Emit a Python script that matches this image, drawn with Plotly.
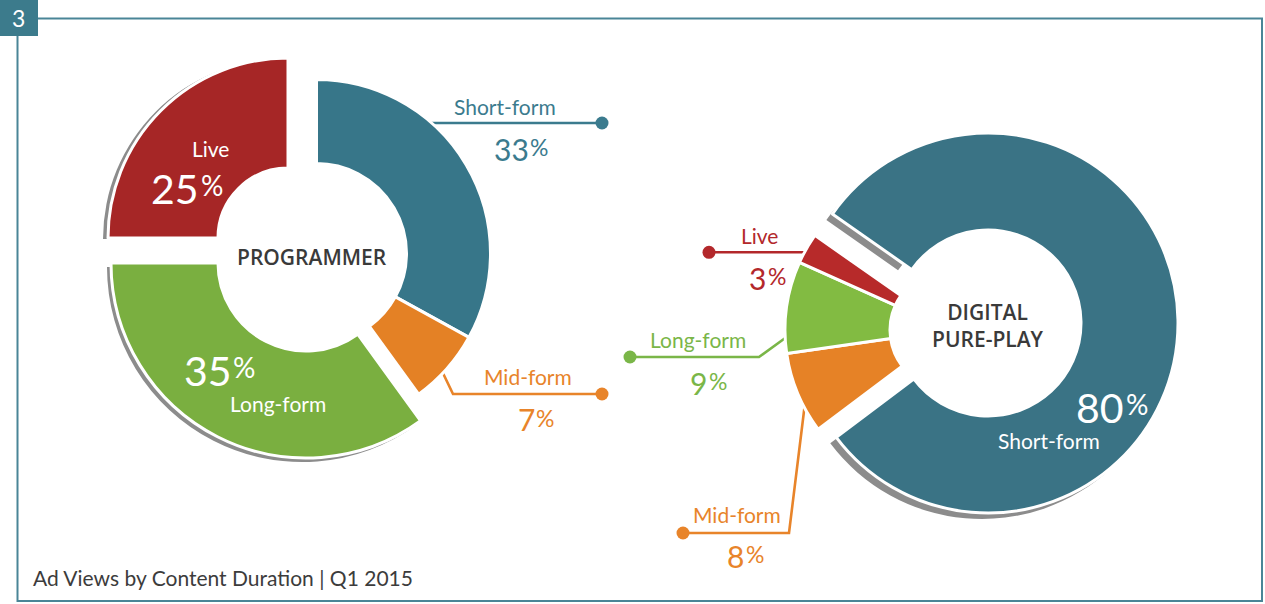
import plotly.graph_objects as go

W, H = 1265, 604

# ---------------- data ----------------
categories = ["Short-form", "Mid-form", "Long-form", "Live"]
programmer_values = [33, 7, 35, 25]
pureplay_values = [80, 8, 9, 3]
programmer_colors = ["#377689", "#e48125", "#7aaf40", "#a62626"]
pureplay_colors = ["#3a7385", "#e68226", "#82bb42", "#b72a2a"]
label_colors = ["#3b7b8e", "#e8842a", "#7ab648", "#b3282b"]
center_titles = ["PROGRAMMER", "DIGITAL<br>PURE-PLAY"]
caption_text = "Ad Views by Content Duration | Q1 2015"
figure_number = "3"

# ---------------- styling / layout (pixel coordinates) ----------------
FONT = "Lato, 'Open Sans', sans-serif"
BOLD_FONT = "'Open Sans', Lato, sans-serif"
CLEAR = "rgba(0,0,0,0)"
SHADOW = "#8c8c8c"
FRAME = "#4a8597"

# each ring: which slice indexes it shows, centre, outer/inner radius (px), shadow offset
programmer_rings = [
    dict(show=[0, 1], cx=316.5, cy=253.5, r=174, inner=90, shadow=None),
    dict(show=[3], cx=288, cy=238, r=180, inner=70, shadow=(-5, 1)),
    dict(show=[2], cx=306, cy=263, r=195, inner=88, shadow=(-4, 4)),
]
pureplay_rings = [
    dict(show=[0], cx=988, cy=323, r=190, inner=93, shadow=(-6, 6)),
    dict(show=[1, 2, 3], cx=950, cy=330, r=165, inner=60, shadow=None),
]

programmer_labels = [
    dict(inside=False, name=(505, 106), num=(511, 149), pct=(539, 147),
         leader=[(425, 123), (602, 123)], dot=(602, 123)),
    dict(inside=False, name=(528, 376), num=(526, 419), pct=(545, 417.5),
         leader=[(441, 369), (453, 394), (602, 394)], dot=(602, 394)),
    dict(inside=True, name=(278, 403), num=(207.5, 370), pct=(244, 367)),
    dict(inside=True, name=(210, 148), num=(175, 188), pct=(212, 185)),
]
pureplay_labels = [
    dict(inside=True, name=(1049, 440), num=(1099.5, 407.5), pct=(1136.5, 404)),
    dict(inside=False, name=(737, 514), num=(735.3, 556), pct=(754.5, 554),
         leader=[(683, 533), (789, 533), (805, 403)], dot=(683, 533)),
    dict(inside=False, name=(698, 339), num=(698.7, 382.5), pct=(718.3, 381),
         leader=[(630, 357), (759, 357), (788, 336)], dot=(630, 357)),
    dict(inside=False, name=(759, 235), num=(757.5, 278), pct=(776.7, 276),
         leader=[(709, 252.3), (806, 252.3)], dot=(709, 252.3)),
]


def domain(cx, cy, r):
    return dict(x=[(cx - r) / W, (cx + r) / W], y=[1 - (cy + r) / H, 1 - (cy - r) / H])


def ring(values, cx, cy, r, inner, colors, rotation, line_w):
    widths = [0 if c == CLEAR else line_w for c in colors]
    return go.Pie(
        values=values, labels=categories, sort=False, direction="clockwise",
        rotation=rotation, hole=inner / r, domain=domain(cx, cy, r),
        marker=dict(colors=colors, line=dict(color="white", width=widths)),
        textinfo="none", hoverinfo="skip", showlegend=False,
    )


fig = go.Figure()


def add_donut(values, colors, rings, rotation):
    # shadows first
    for rg in rings:
        if rg["shadow"]:
            dx, dy = rg["shadow"]
            off = (dx * dx + dy * dy) ** 0.5 + 1
            cols = [SHADOW if i in rg["show"] else CLEAR for i in range(len(values))]
            fig.add_trace(ring(values, rg["cx"] + dx, rg["cy"] + dy, rg["r"],
                               rg["inner"] + off, cols, rotation, 0))
    for rg in rings:
        cols = [colors[i] if i in rg["show"] else CLEAR for i in range(len(values))]
        fig.add_trace(ring(values, rg["cx"], rg["cy"], rg["r"], rg["inner"], cols, rotation, 3))


add_donut(programmer_values, programmer_colors, programmer_rings, 0)
add_donut(pureplay_values, pureplay_colors, pureplay_rings, -55)

annotations = []


def add_text(text, x, y, size, color, family=FONT, xanchor="center", weight=400):
    annotations.append(dict(text=text, x=x, y=y, xref="x", yref="y", showarrow=False,
                            xanchor=xanchor, yanchor="middle",
                            font=dict(family=family, size=size, color=color, weight=weight)))


def add_labels(values, specs):
    for i, (cat, v, sp) in enumerate(zip(categories, values, specs)):
        if sp["inside"]:
            col = "white"
            nsize, psize = (41, 28)
        else:
            col = label_colors[i]
            nsize, psize = (30, 23)
            xs = [p[0] for p in sp["leader"]]
            ys = [p[1] for p in sp["leader"]]
            fig.add_trace(go.Scatter(x=xs, y=ys, mode="lines", line=dict(color=col, width=2.6),
                                     hoverinfo="skip", showlegend=False, cliponaxis=False))
            fig.add_trace(go.Scatter(x=[sp["dot"][0]], y=[sp["dot"][1]], mode="markers",
                                     marker=dict(color=col, size=13), hoverinfo="skip",
                                     showlegend=False, cliponaxis=False))
        add_text(cat, sp["name"][0], sp["name"][1], 21, col)
        add_text(str(v), sp["num"][0], sp["num"][1], nsize, col)
        add_text("%", sp["pct"][0], sp["pct"][1], psize, col)


add_labels(programmer_values, programmer_labels)
add_labels(pureplay_values, pureplay_labels)

add_text(center_titles[0], 311.7, 256.7, 21, "#3a3a3a", family=BOLD_FONT, weight=600)
add_text(center_titles[1], 988, 325, 21, "#3a3a3a", family=BOLD_FONT, weight=600)
add_text(caption_text, 31, 577, 21, "#3c3c3c", xanchor="left")
add_text(figure_number, 18.5, 17.5, 23, "white")

shapes = [
    dict(type="rect", xref="x", yref="y", x0=17.5, y0=18.5, x1=1262, y1=601,
         line=dict(color=FRAME, width=2), fillcolor=CLEAR, layer="below"),
    dict(type="rect", xref="x", yref="y", x0=0, y0=0, x1=38, y1=36,
         line=dict(width=0), fillcolor="#3c7b8c", layer="above"),
]

fig.update_layout(
    width=W, height=H, margin=dict(l=0, r=0, t=0, b=0, pad=0),
    paper_bgcolor="white", plot_bgcolor="white", showlegend=False,
    xaxis=dict(range=[0, W], visible=False, fixedrange=True),
    yaxis=dict(range=[H, 0], visible=False, fixedrange=True),
    shapes=shapes, annotations=annotations,
)

fig.write_html("out.html", config={"displayModeBar": False},
               post_script="document.body.style.margin='0px';document.body.style.overflow='hidden';")
